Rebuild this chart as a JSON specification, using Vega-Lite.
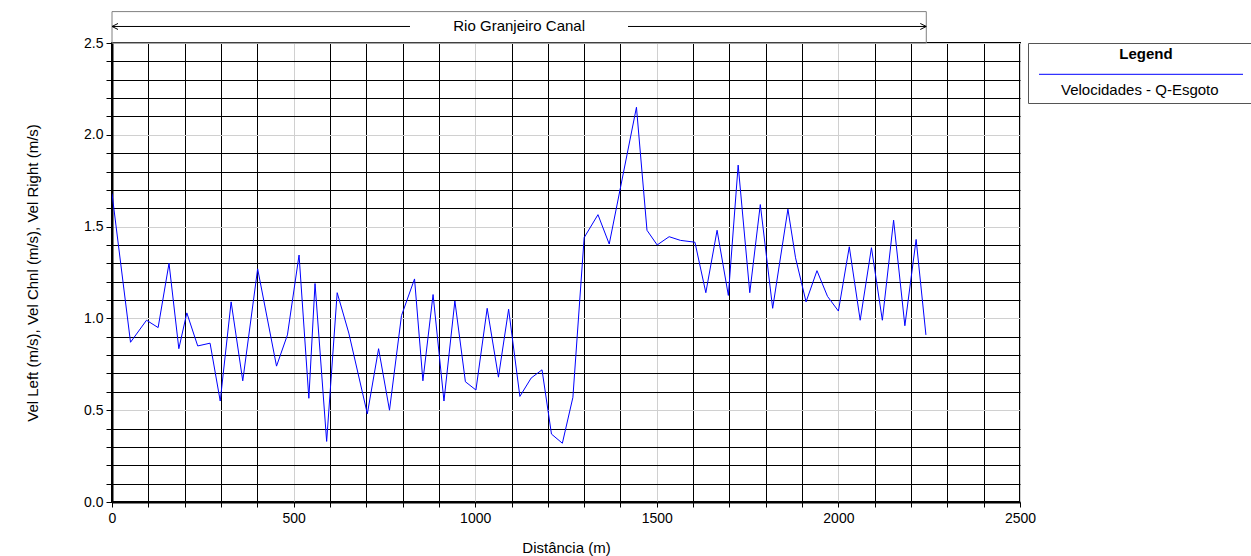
{
  "$schema": "https://vega.github.io/schema/vega-lite/v6.json",
  "width": 908,
  "height": 459,
  "autosize": {"type": "none"},
  "padding": {"left": 112, "top": 43, "right": 231, "bottom": 54},
  "background": "white",
  "config": {
    "font": "Liberation Sans",
    "view": {"stroke": "black", "strokeWidth": 2}
  },
  "datasets": {
    "velocity": [
      {"distance": 0, "velocity": 1.68},
      {"distance": 51, "velocity": 0.87},
      {"distance": 95, "velocity": 0.99},
      {"distance": 127, "velocity": 0.95},
      {"distance": 157, "velocity": 1.3},
      {"distance": 184, "velocity": 0.835},
      {"distance": 206, "velocity": 1.03},
      {"distance": 236, "velocity": 0.85},
      {"distance": 270, "velocity": 0.865},
      {"distance": 298, "velocity": 0.55},
      {"distance": 328, "velocity": 1.09},
      {"distance": 360, "velocity": 0.66},
      {"distance": 401, "velocity": 1.27},
      {"distance": 453, "velocity": 0.74},
      {"distance": 483, "velocity": 0.91},
      {"distance": 515, "velocity": 1.345},
      {"distance": 542, "velocity": 0.565},
      {"distance": 559, "velocity": 1.19},
      {"distance": 591, "velocity": 0.33},
      {"distance": 620, "velocity": 1.14},
      {"distance": 652, "velocity": 0.92},
      {"distance": 703, "velocity": 0.48},
      {"distance": 734, "velocity": 0.835},
      {"distance": 764, "velocity": 0.5},
      {"distance": 797, "velocity": 1.015},
      {"distance": 833, "velocity": 1.215},
      {"distance": 856, "velocity": 0.66},
      {"distance": 884, "velocity": 1.13},
      {"distance": 914, "velocity": 0.55},
      {"distance": 944, "velocity": 1.095},
      {"distance": 973, "velocity": 0.655},
      {"distance": 1002, "velocity": 0.61},
      {"distance": 1033, "velocity": 1.055},
      {"distance": 1064, "velocity": 0.68},
      {"distance": 1092, "velocity": 1.05},
      {"distance": 1123, "velocity": 0.575},
      {"distance": 1154, "velocity": 0.675},
      {"distance": 1184, "velocity": 0.72},
      {"distance": 1210, "velocity": 0.37},
      {"distance": 1240, "velocity": 0.32},
      {"distance": 1269, "velocity": 0.57},
      {"distance": 1300, "velocity": 1.44},
      {"distance": 1338, "velocity": 1.565},
      {"distance": 1369, "velocity": 1.405},
      {"distance": 1444, "velocity": 2.15},
      {"distance": 1473, "velocity": 1.48},
      {"distance": 1501, "velocity": 1.4},
      {"distance": 1534, "velocity": 1.445},
      {"distance": 1565, "velocity": 1.425},
      {"distance": 1605, "velocity": 1.415},
      {"distance": 1635, "velocity": 1.14},
      {"distance": 1666, "velocity": 1.48},
      {"distance": 1697, "velocity": 1.125},
      {"distance": 1724, "velocity": 1.835},
      {"distance": 1756, "velocity": 1.14},
      {"distance": 1785, "velocity": 1.62},
      {"distance": 1819, "velocity": 1.055},
      {"distance": 1861, "velocity": 1.595},
      {"distance": 1882, "velocity": 1.33},
      {"distance": 1911, "velocity": 1.09},
      {"distance": 1941, "velocity": 1.26},
      {"distance": 1970, "velocity": 1.12},
      {"distance": 2000, "velocity": 1.04},
      {"distance": 2030, "velocity": 1.39},
      {"distance": 2060, "velocity": 0.99},
      {"distance": 2091, "velocity": 1.385},
      {"distance": 2121, "velocity": 0.99},
      {"distance": 2152, "velocity": 1.535},
      {"distance": 2183, "velocity": 0.96},
      {"distance": 2214, "velocity": 1.43},
      {"distance": 2241, "velocity": 0.91}
    ],
    "reach": [
      {"reach": "Rio Granjeiro Canal", "start": 0, "end": 2242}
    ]
  },
  "layer": [
    {
      "data": {"name": "velocity"},
      "mark": {"type": "line", "strokeWidth": 1, "clip": true},
      "encoding": {
        "x": {
          "field": "distance",
          "type": "quantitative",
          "title": "Distância (m)",
          "scale": {"domain": [0, 2500], "nice": false},
          "axis": {
            "values": [0, 100, 200, 300, 400, 500, 600, 700, 800, 900, 1000, 1100, 1200, 1300, 1400, 1500, 1600, 1700, 1800, 1900, 2000, 2100, 2200, 2300, 2400, 2500],
            "tickCount": 40,
            "format": "d",
            "labelExpr": "datum.value % 500 === 0 ? datum.label : ''",
            "grid": true,
            "gridColor": {"condition": {"test": "datum.value % 500 === 0", "value": "#d0d0d0"}, "value": "black"},
            "gridWidth": 1,
            "tickSize": 5,
            "tickColor": "black",
            "domainColor": "black",
            "domainWidth": 2,
            "labelFontSize": 14,
            "labelColor": "black",
            "labelPadding": 4,
            "labelFlush": false,
            "labelOverlap": false,
            "titleFontSize": 15,
            "titleFontWeight": "normal",
            "titleColor": "black",
            "titlePadding": 15
          }
        },
        "y": {
          "field": "velocity",
          "type": "quantitative",
          "title": "Vel Left (m/s), Vel Chnl (m/s), Vel Right (m/s)",
          "scale": {"domain": [0, 2.5], "nice": false},
          "axis": {
            "values": [0, 0.1, 0.2, 0.3, 0.4, 0.5, 0.6, 0.7, 0.8, 0.9, 1, 1.1, 1.2, 1.3, 1.4, 1.5, 1.6, 1.7, 1.8, 1.9, 2, 2.1, 2.2, 2.3, 2.4, 2.5],
            "tickCount": 40,
            "labelExpr": "round(datum.value * 10) % 5 === 0 ? format(datum.value, '.1f') : ''",
            "grid": true,
            "gridColor": {"condition": {"test": "round(datum.value * 10) % 5 === 0", "value": "#d0d0d0"}, "value": "black"},
            "gridWidth": 1,
            "tickSize": 6,
            "tickColor": "black",
            "domainColor": "black",
            "domainWidth": 2,
            "labelFontSize": 14,
            "labelColor": "black",
            "labelPadding": 3,
            "labelFlush": false,
            "labelOverlap": false,
            "titleFontSize": 15,
            "titleFontWeight": "normal",
            "titleColor": "black",
            "titlePadding": 43
          }
        },
        "color": {
          "datum": "Velocidades - Q-Esgoto",
          "scale": {"range": ["blue"]},
          "legend": {
            "title": "Legend",
            "orient": "none",
            "legendX": 916,
            "legendY": 0,
            "strokeColor": "#555555",
            "fillColor": "white",
            "padding": 4,
            "titleFontSize": 15,
            "titleFontWeight": "bold",
            "titleColor": "black",
            "titleAnchor": "middle",
            "titleAlign": "center",
            "titleBaseline": "top",
            "titlePadding": 10.8,
            "symbolType": "M-0.35,-0.9H20.05M21.5,-0.9",
            "symbolSize": 400,
            "symbolStrokeWidth": 1,
            "symbolOffset": 0,
            "labelFontSize": 15,
            "labelColor": "black",
            "labelAlign": "left",
            "labelBaseline": "top",
            "labelOffset": 8,
            "labelLimit": 400
          }
        }
      }
    },
    {
      "data": {"name": "reach"},
      "mark": {"type": "rect", "fillOpacity": 0, "stroke": "#808080", "strokeWidth": 1},
      "encoding": {
        "x": {"field": "start", "type": "quantitative", "title": "Distância (m)"},
        "x2": {"field": "end"},
        "y": {"datum": 2.5, "type": "quantitative"},
        "y2": {"datum": 2.671}
      }
    },
    {
      "data": {"name": "reach"},
      "mark": {"type": "rule", "color": "black", "strokeWidth": 1, "strokeDash": [298, 218]},
      "encoding": {
        "x": {"field": "start", "type": "quantitative", "title": "Distância (m)"},
        "x2": {"field": "end"},
        "y": {"datum": 2.59, "type": "quantitative"}
      }
    },
    {
      "data": {"name": "reach"},
      "mark": {"type": "point", "shape": "M2,-1L0,0L2,1", "size": 36, "filled": false, "color": "black", "strokeWidth": 1, "opacity": 1},
      "encoding": {
        "x": {"field": "start", "type": "quantitative", "title": "Distância (m)"},
        "y": {"datum": 2.59, "type": "quantitative"}
      }
    },
    {
      "data": {"name": "reach"},
      "mark": {"type": "point", "shape": "M-2,-1L0,0L-2,1", "size": 36, "filled": false, "color": "black", "strokeWidth": 1, "opacity": 1},
      "encoding": {
        "x": {"field": "end", "type": "quantitative", "title": "Distância (m)"},
        "y": {"datum": 2.59, "type": "quantitative"}
      }
    },
    {
      "data": {"name": "reach"},
      "transform": [{"fold": ["start", "end"], "as": ["edge", "pos"]}],
      "mark": {"type": "text", "fontSize": 15, "color": "black", "align": "center", "baseline": "middle"},
      "encoding": {
        "x": {"aggregate": "mean", "field": "pos", "type": "quantitative", "title": "Distância (m)"},
        "y": {"datum": 2.59, "type": "quantitative"},
        "text": {"field": "reach"}
      }
    }
  ]
}
